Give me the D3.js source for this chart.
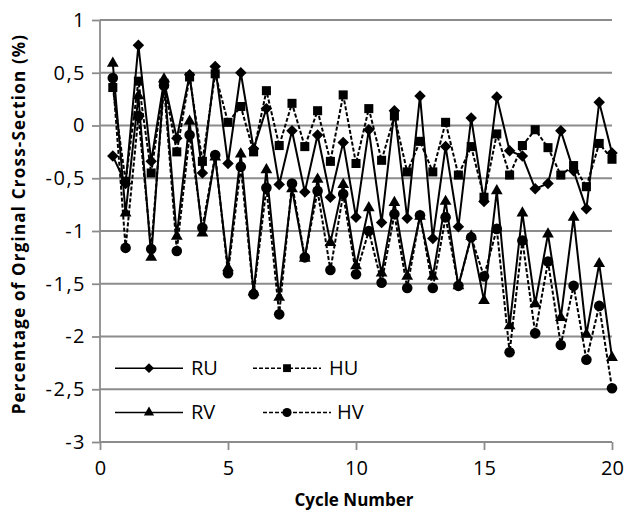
<!DOCTYPE html>
<html lang="en">
<head>
  <meta charset="UTF-8" />
  <title>Cross-section change per cycle</title>
  <style>
    body { margin: 0; background: #fff; }
    text { font-family: "Open Sans", Lato, "Liberation Sans", sans-serif; fill: #000; }
    .tick text { font-size: 20px; }
    .yax .tick text { letter-spacing: 1.5px; }
    .title { font-size: 17px; font-weight: bold; }
    .grid line { stroke: #8c8c8c; stroke-width: 1.8; }
    .axis path, .axis line { stroke: #8c8c8c; stroke-width: 1.8; }
  </style>
</head>
<body>
  <svg width="629" height="515"></svg>

  <script src="https://d3js.org/d3.v7.min.js"></script>
  <script>
    // cycles 0.5 .. 20
    const cycles = [0.5, 1, 1.5, 2, 2.5, 3, 3.5, 4, 4.5, 5, 5.5, 6, 6.5, 7, 7.5, 8, 8.5, 9, 9.5, 10,
      10.5, 11, 11.5, 12, 12.5, 13, 13.5, 14, 14.5, 15, 15.5, 16, 16.5, 17, 17.5, 18, 18.5, 19, 19.5, 20];

    const ru = [-0.29, -0.55, 0.76, -0.34, 0.42, -0.12, 0.48, -0.45, 0.56, -0.36, 0.50, -0.22, 0.16, -0.56, -0.05, -0.63, -0.09, -0.68, -0.16, -0.87,
      -0.04, -0.92, 0.14, -0.88, 0.28, -1.07, -0.20, -0.96, 0.07, -0.72, 0.27, -0.24, -0.29, -0.60, -0.55, -0.05, -0.43, -0.79, 0.22, -0.26];
    const hu = [0.36, -0.53, 0.42, -0.45, 0.40, -0.25, 0.46, -0.34, 0.49, 0.03, 0.18, -0.25, 0.33, -0.19, 0.21, -0.20, 0.14, -0.34, 0.29, -0.36,
      0.16, -0.33, 0.09, -0.44, -0.15, -0.44, 0.03, -0.47, -0.20, -0.68, -0.08, -0.47, -0.19, -0.04, -0.21, -0.47, -0.38, -0.58, -0.17, -0.32];
    const rv = [0.59, -0.83, 0.28, -1.25, 0.44, -1.05, 0.04, -1.02, -0.30, -1.35, -0.27, -1.58, -0.42, -1.63, -0.60, -1.26, -0.51, -1.11, -0.56, -1.33,
      -0.78, -1.40, -0.73, -1.43, -0.86, -1.43, -0.72, -1.52, -1.05, -1.66, -0.62, -1.90, -0.83, -1.69, -1.03, -1.82, -0.87, -1.98, -1.31, -2.20];
    const hv = [0.45, -1.16, 0.09, -1.17, 0.38, -1.19, -0.09, -0.97, -0.28, -1.40, -0.39, -1.60, -0.59, -1.79, -0.55, -1.25, -0.62, -1.37, -0.65, -1.41,
      -1.00, -1.49, -0.84, -1.54, -0.85, -1.54, -0.87, -1.52, -1.06, -1.43, -0.98, -2.15, -1.09, -1.97, -1.29, -2.08, -1.52, -2.22, -1.71, -2.49];

    const xTicks = [0, 5, 10, 15, 20];
    const yTicks = [-3, -2.5, -2, -1.5, -1, -0.5, 0, 0.5, 1];

    // square diamond (excel style), d3's one is too tall
    const diamond = {
      draw(ctx, size) {
        const a = Math.sqrt(size / 2);
        ctx.moveTo(0, -a);
        ctx.lineTo(a, 0);
        ctx.lineTo(0, a);
        ctx.lineTo(-a, 0);
        ctx.closePath();
      }
    };

    const series = [
      { name: 'RU', values: ru, symbol: diamond, size: 66, dash: null },
      { name: 'HU', values: hu, symbol: d3.symbolSquare, size: 82, dash: '4,2' },
      { name: 'RV', values: rv, symbol: d3.symbolTriangle, size: 60, dash: null },
      { name: 'HV', values: hv, symbol: d3.symbolCircle, size: 88, dash: '4,2' }
    ];

    const margin = { top: 20, right: 17, bottom: 73, left: 100 };
    const width = 629 - margin.left - margin.right;
    const height = 515 - margin.top - margin.bottom;

    const svg = d3.select('svg');
    const g = svg.append('g').attr('transform', `translate(${margin.left},${margin.top})`);

    const x = d3.scaleLinear().domain([0, 20]).range([0, width]);
    const y = d3.scaleLinear().domain([-3, 1]).range([height, 0]);

    // decimal comma like the original
    const fmt = d3.formatLocale({ decimal: ',', thousands: '.', grouping: [3], currency: ['', ''], minus: '-' }).format('~g');

    // horizontal gridlines
    g.append('g').attr('class', 'grid')
      .selectAll('line')
      .data(yTicks)
      .join('line')
      .attr('x1', 0).attr('x2', width)
      .attr('y1', d => y(d)).attr('y2', d => y(d));

    // axes
    const yAxis = g.append('g').attr('class', 'axis yax')
      .call(d3.axisLeft(y).tickValues(yTicks).tickFormat(fmt).tickSize(8).tickPadding(6));
    const xAxis = g.append('g').attr('class', 'axis')
      .attr('transform', `translate(0,${height})`)
      .call(d3.axisBottom(x).tickValues(xTicks).tickFormat(fmt).tickSize(8).tickPadding(8));
    yAxis.select('.domain').attr('d', `M0,${height}V0`);
    xAxis.select('.domain').attr('d', `M0,0H${width}`);
    xAxis.selectAll('.tick text').attr('dy', '0.85em');

    // lines
    const line = d3.line()
      .x((d, i) => x(cycles[i]))
      .y(d => y(d));

    series.forEach(s => {
      g.append('path')
        .datum(s.values)
        .attr('fill', 'none')
        .attr('stroke', '#000')
        .attr('stroke-width', 2)
        .attr('stroke-dasharray', s.dash)
        .attr('d', line);
    });

    series.forEach(s => {
      g.append('g')
        .selectAll('path')
        .data(s.values)
        .join('path')
        .attr('transform', (d, i) => `translate(${x(cycles[i])},${y(d)})`)
        .attr('d', d3.symbol().type(s.symbol).size(s.size))
        .attr('fill', '#000');
    });

    // legend
    const legendPos = [
      { lx: 15, ly: y(-2.3), tx: 76 },
      { lx: 153, ly: y(-2.3), tx: 76 },
      { lx: 15, ly: y(-2.72), tx: 76 },
      { lx: 163, ly: y(-2.72), tx: 74 }
    ];
    series.forEach((s, i) => {
      const p = legendPos[i];
      const lg = g.append('g').attr('transform', `translate(${p.lx},${p.ly})`);
      lg.append('line')
        .attr('x1', 0).attr('x2', 68)
        .attr('stroke', '#000').attr('stroke-width', 1.5)
        .attr('stroke-dasharray', s.dash);
      lg.append('path')
        .attr('transform', `translate(${i === 3 ? 24 : 34},0)`)
        .attr('d', d3.symbol().type(s.symbol).size(s.size * 0.75))
        .attr('fill', '#000');
      lg.append('text')
        .attr('x', p.tx).attr('dy', '0.35em')
        .style('font-size', '20px')
        .text(s.name);
    });

    // axis titles
    svg.append('text').attr('class', 'title')
      .attr('text-anchor', 'middle')
      .style('letter-spacing', '1.2px')
      .attr('transform', `translate(25,224) rotate(-90)`)
      .text('Percentage of Orginal Cross-Section (%)');
    svg.append('text').attr('class', 'title')
      .attr('text-anchor', 'middle')
      .attr('x', margin.left + width / 2 - 2)
      .attr('y', 506)
      .text('Cycle Number');
  </script>
</body>
</html>
